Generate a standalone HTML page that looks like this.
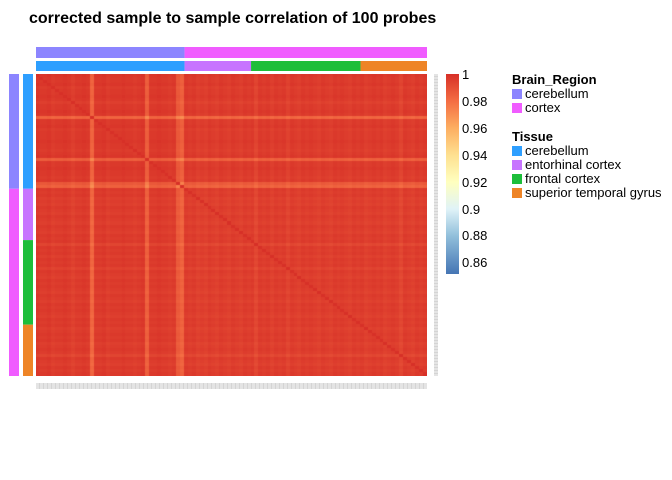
<!DOCTYPE html>
<html><head><meta charset="utf-8"><style>
body{margin:0;background:#fff;font-family:"Liberation Sans",Arial,sans-serif}
#wrap{position:relative;width:672px;height:480px;overflow:hidden}
.t{position:absolute;white-space:nowrap;color:#000}
</style></head><body>
<div id="wrap">
<div class="t" style="left:29px;top:10px;font-size:16px;font-weight:bold">corrected sample to sample correlation of 100 probes</div>
<canvas id="hm" width="391" height="302" style="position:absolute;left:36px;top:74px"></canvas>
<div style="position:absolute;left:36px;top:383px;width:391px;height:6px;background:repeating-linear-gradient(90deg,#e4e4e4 0 3px,#d4d4d4 3px 4px)"></div>
<div style="position:absolute;left:434px;top:74px;width:4px;height:302px;background:repeating-linear-gradient(0deg,#e4e4e4 0 2px,#d4d4d4 2px 3px)"></div>
<svg id="ann" width="672" height="480" style="position:absolute;left:0;top:0"></svg>
<div style="position:absolute;left:446px;top:74px;width:13px;height:200px;background:linear-gradient(180deg,#D73027 0%,#F46D43 13.5%,#FDAE61 27%,#FEE090 40.5%,#FFFFBF 54%,#E0F3F8 67.5%,#91BFDB 81%,#4575B4 100%)"></div>
<div id="cbt"></div>
<div class="t" style="left:512px;top:72px;font-size:13px;font-weight:bold">Brain_Region</div>
<div class="t" style="left:512px;top:129px;font-size:13px;font-weight:bold">Tissue</div>
<div id="leg"></div>
</div>
<script>
const sampleOffsets=[
0.001,0.002,0.002,0.001,0.003,0.002,0.002,0.001,0.002,0.004,0.002,0.002,0.001,0.002,0.016,0.002,0.002,0.001,0.003,0.002,
0.002,0.002,0.001,0.002,0.002,0.003,0.002,0.001,0.014,0.002,0.002,0.001,0.002,0.002,0.003,0.002,0.012,0.015,0.002,0.003,
0.002,0.004,0.003,0.004,0.002,0.003,0.004,0.002,0.003,0.004,0.002,0.003,0.004,0.002,0.003,0.002,0.006,0.002,0.003,0.002,
0.004,0.002,0.003,0.002,0.005,0.002,0.003,0.004,0.002,0.003,0.002,0.003,0.004,0.002,0.003,0.004,0.002,0.003,0.002,0.003,
0.004,0.002,0.003,0.002,0.004,0.003,0.002,0.003,0.002,0.004,0.003,0.002,0.003,0.006,0.002,0.003,0.004,0.002,0.003,0.002];
const groupNames=["cerebellum","entorhinal cortex","frontal cortex","superior temporal gyrus"];
const groupCounts=[38,17,28,17];
const regionNames=["cerebellum","cortex"];
const regionCounts=[38,62];
const colorTicks=[1,0.98,0.96,0.94,0.92,0.9,0.88,0.86];
const N=sampleOffsets.length;
const stops=[[1,[215,48,39]],[0.98,[244,109,67]],[0.96,[253,174,97]],[0.94,[254,224,144]],[0.92,[255,255,191]],[0.9,[224,243,248]],[0.88,[145,191,219]],[0.853,[69,117,180]]];
function col(v){if(v>=1)return stops[0][1];for(let k=0;k<stops.length-1;k++){const a=stops[k],b=stops[k+1];if(v<=a[0]&&v>=b[0]){const t=(a[0]-v)/(a[0]-b[0]);return a[1].map((c,i)=>Math.round(c+(b[1][i]-c)*t));}}return stops[stops.length-1][1];}
const W=391,H=302,cw=W/N,ch=H/N;
const ctx=document.getElementById('hm').getContext('2d');
for(let i=0;i<N;i++)for(let j=0;j<N;j++){
 const v=i===j?1:1-sampleOffsets[i]-sampleOffsets[j]+0.001;
 const c=col(v);ctx.fillStyle=`rgb(${c[0]},${c[1]},${c[2]})`;
 ctx.fillRect(Math.floor(j*cw),Math.floor(i*ch),Math.ceil(cw)+1,Math.ceil(ch)+1);}
const svg=document.getElementById('ann'),NS='http://www.w3.org/2000/svg';
const regionColors=["#8C85FF","#F05CFF"],tissueColors=["#2E9FFF","#C774FF","#1DBE3A","#EE8426"];
function bars(counts,colors,name,top,h,left,w){let acc=0;counts.forEach((n,k)=>{
 const r1=document.createElementNS(NS,'rect');r1.setAttribute('x',36+acc/N*W);r1.setAttribute('y',top);r1.setAttribute('width',n/N*W);r1.setAttribute('height',h);r1.setAttribute('fill',colors[k]);
 
 svg.appendChild(r1);
 const r2=document.createElementNS(NS,'rect');r2.setAttribute('x',left);r2.setAttribute('y',74+acc/N*H);r2.setAttribute('width',w);r2.setAttribute('height',n/N*H);r2.setAttribute('fill',colors[k]);
 
 svg.appendChild(r2);acc+=n;});}
bars(regionCounts,regionColors,'brain-region',47,11,9,10);
bars(groupCounts,tissueColors,'tissue',61,10,23,10);
const cbt=document.getElementById('cbt');
colorTicks.forEach(v=>{const d=document.createElement('div');d.className='t';d.style.cssText=`left:462px;top:${74+(1-v)/0.02*26.9-7}px;font-size:13px`;d.textContent=String(v);
 
 cbt.appendChild(d);});
const leg=document.getElementById('leg');
function entries(names,colors,top){names.forEach((n,k)=>{const e=document.createElement('div');e.className='t';e.style.cssText=`left:512px;top:${top+k*14}px;font-size:13px`;
 e.innerHTML=`<span style="display:inline-block;width:10px;height:10px;background:${colors[k]};margin-right:3px;vertical-align:-1px"></span>${n}`;
 
 leg.appendChild(e);});}
entries(regionNames,regionColors,86);
entries(groupNames,tissueColors,143);
</script>
</body></html>
